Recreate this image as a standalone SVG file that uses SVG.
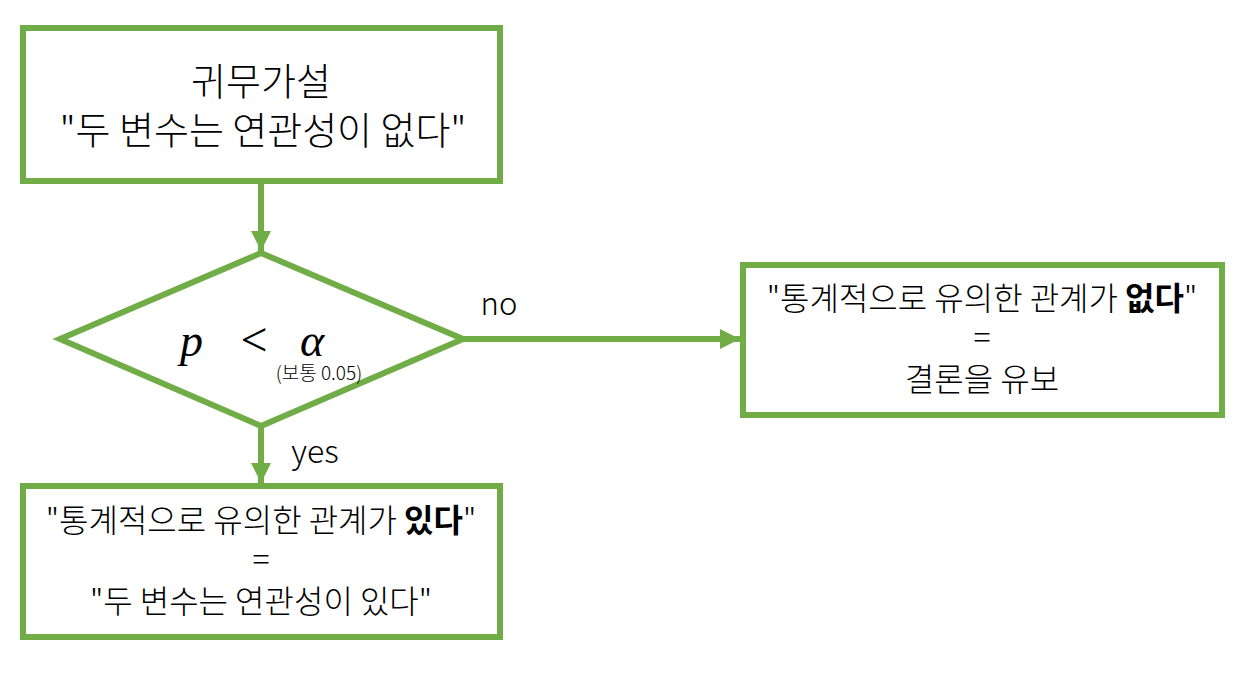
<svg xmlns="http://www.w3.org/2000/svg" width="1260" height="675" viewBox="0 0 1260 675">
<defs>
<marker id="ah" markerUnits="userSpaceOnUse" markerWidth="20" markerHeight="20" viewBox="0 0 18 18" refX="18" refY="9" orient="auto">
<path d="M0,0 L18,9 L0,18 z" fill="#70AD47"/>
</marker>
<style>
.box{fill:#fff;stroke:#70AD47;stroke-width:6}
.conn{stroke:#70AD47;stroke-width:6;fill:none;marker-end:url(#ah)}
.t{font-family:"Noto Sans CJK KR","Noto Sans",sans-serif;font-weight:300;fill:#000;text-anchor:middle}
.b{font-weight:700}
.m{font-family:"Liberation Serif",serif;font-style:italic;fill:#000}
</style>
</defs>
<rect width="1260" height="675" fill="#fff"/>
<g id="connectors">
<line class="conn" x1="261" y1="184" x2="261" y2="251"/>
<line class="conn" x1="463" y1="339" x2="740" y2="339"/>
<line class="conn" x1="261" y1="426" x2="261" y2="483"/>
<text class="t" x="499" y="315" font-size="31">no</text>
<text class="t" x="315" y="463" font-size="32">yes</text>
</g>
<g id="null-hypothesis">
<rect class="box" x="23" y="28" width="477" height="153"/>
<text class="t" x="261" y="95" font-size="38">귀무가설</text>
<text class="t" x="263" y="144" font-size="38">"두 변수는 연관성이 없다"</text>
</g>
<g id="decision">
<polygon class="box" points="60,339 261,253 463,339 261,426"/>
<text class="m" x="180" y="356" font-size="46">p</text>
<text x="254" y="356" font-size="48" font-family="Liberation Serif,serif" text-anchor="middle">&lt;</text>
<text class="m" x="300" y="356" font-size="46">α</text>
<text class="t" x="319" y="380" font-size="19">(보통 0.05)</text>
</g>
<g id="no-result">
<rect class="box" x="743" y="265" width="479" height="150"/>
<text class="t" x="982" y="310" font-size="32">"통계적으로 유의한 관계가 <tspan class="b">없다</tspan>"</text>
<text class="t" x="982" y="349" font-size="32">=</text>
<text class="t" x="982" y="391" font-size="32">결론을 유보</text>
</g>
<g id="yes-result">
<rect class="box" x="23" y="486" width="477" height="151"/>
<text class="t" x="261" y="532" font-size="32">"통계적으로 유의한 관계가 <tspan class="b">있다</tspan>"</text>
<text class="t" x="261" y="571" font-size="32">=</text>
<text class="t" x="261" y="613" font-size="32">"두 변수는 연관성이 있다"</text>
</g>
</svg>
